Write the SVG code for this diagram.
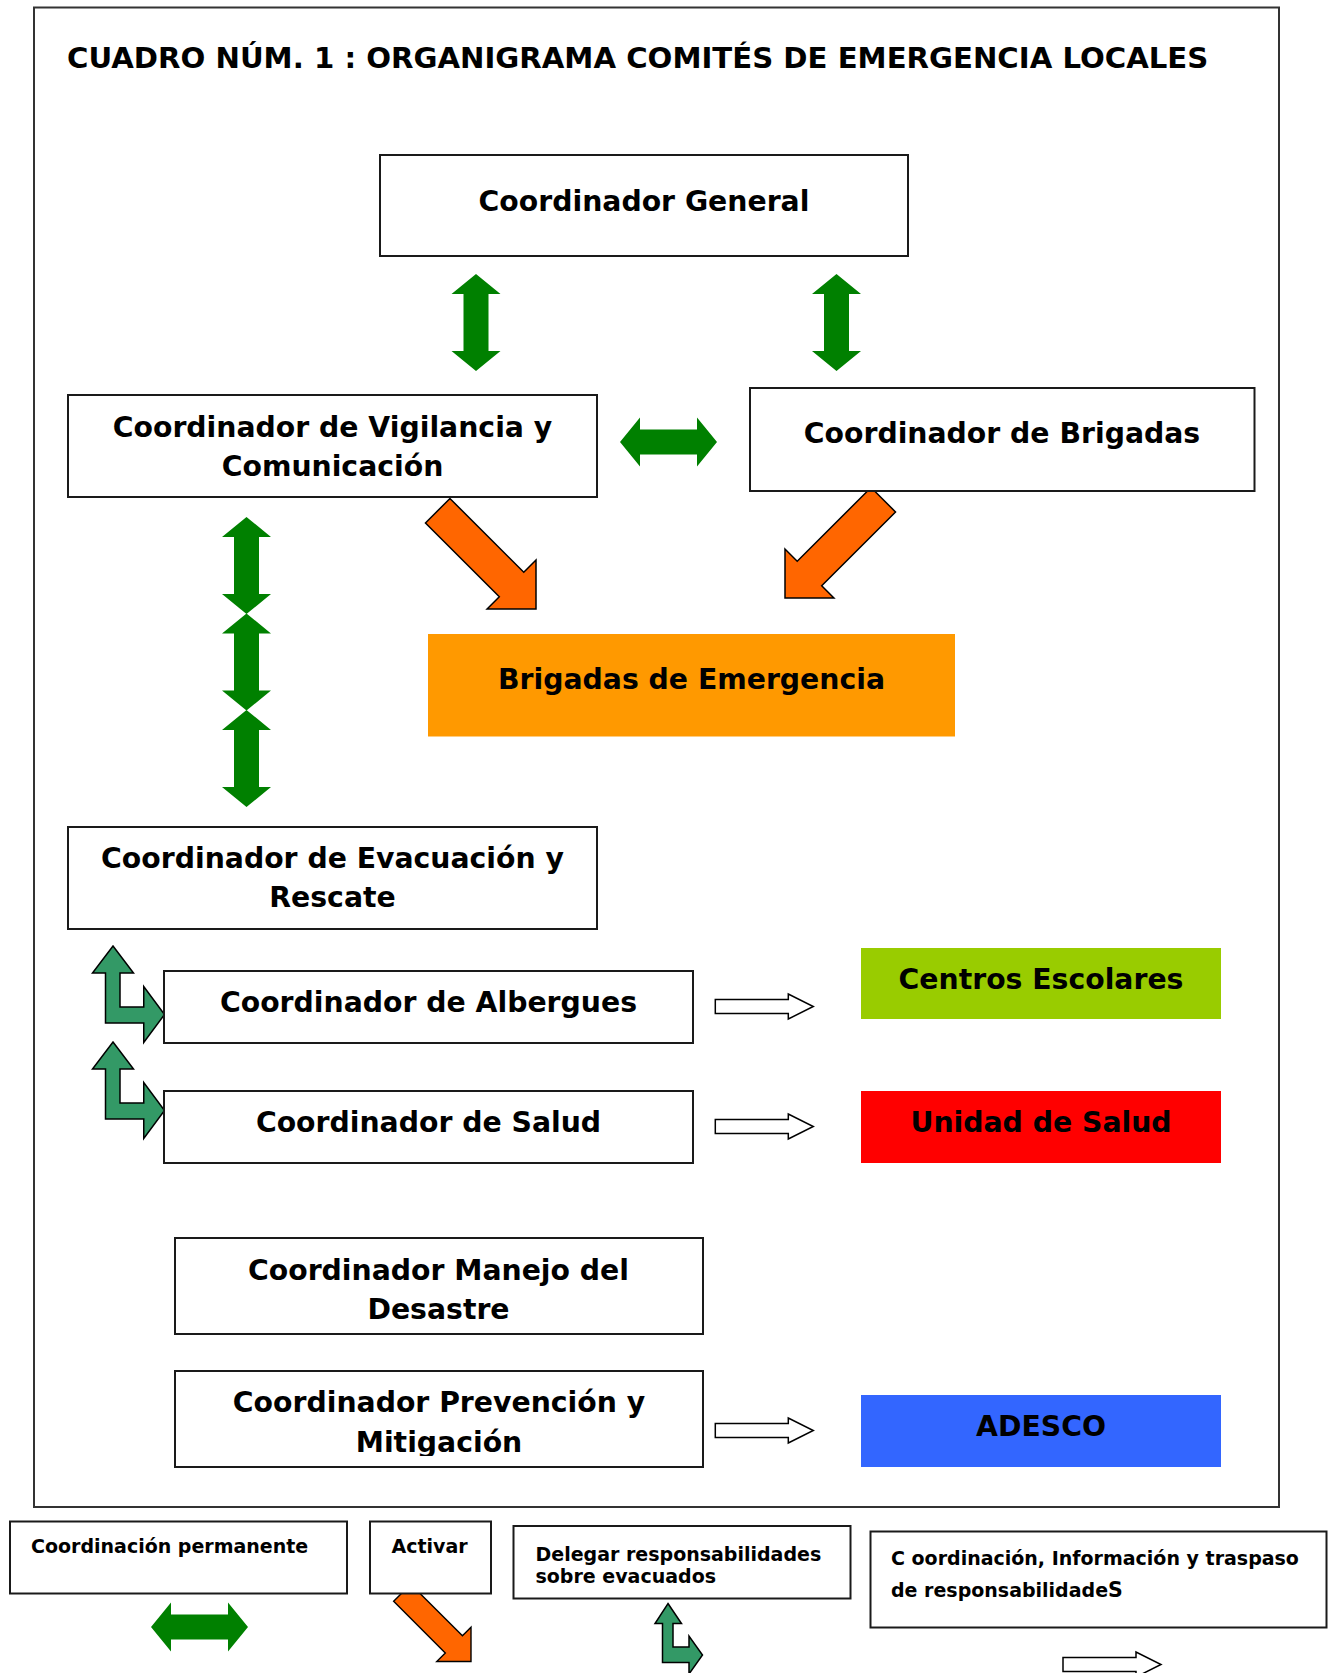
<svg xmlns="http://www.w3.org/2000/svg" width="1333" height="1673" viewBox="0 0 1333 1673">
<style>
.box{fill:#fff;stroke:#1a1a1a;stroke-width:2}
.frame{fill:none;stroke:#333;stroke-width:2}
.t{font-family:"DejaVu Sans","Liberation Sans",sans-serif;font-weight:bold;fill:#000}
.big{font-size:28.3px;text-anchor:middle}
.title{font-size:29.2px}
.leg{font-size:19px}
.g{fill:#008000}
.teal{fill:#339966;stroke:#000;stroke-width:1.5;stroke-linejoin:miter}
.org{fill:#FF6600;stroke:#000;stroke-width:1.5}
.wa{fill:#fff;stroke:#000;stroke-width:1.5}
</style>
<defs>
<polygon id="dbl" points="0,0 24.5,20 12.5,20 12.5,77 24.5,77 0,97 -24.5,77 -12.5,77 -12.5,20 -24.5,20"/>
<polygon id="oa" points="0,0 -34.6,-34.6 -34.6,-17.3 -139,-17.3 -139,17.3 -34.6,17.3 -34.6,34.6"/>
<polygon id="wa" points="0,-7 73,-7 73,-12.5 98,0 73,12.5 73,7 0,7"/>
<clipPath id="clipMit"><rect x="170" y="1360" width="540" height="96"/></clipPath>
</defs>
<rect width="1333" height="1673" fill="#fff"/>
<rect class="frame" x="34" y="7.5" width="1245" height="1499.5"/>
<text class="t title" x="67" y="67.5">CUADRO NÚM. 1 : ORGANIGRAMA COMITÉS DE EMERGENCIA LOCALES</text>

<g id="connectors">
  <use href="#dbl" class="g" x="476" y="274"/>
  <use href="#dbl" class="g" x="836.5" y="274"/>
  <use href="#dbl" class="g" transform="translate(717,442) rotate(90)"/>
  <use href="#dbl" class="g" x="246.5" y="517"/>
  <use href="#dbl" class="g" x="246.5" y="613.5"/>
  <use href="#dbl" class="g" x="246.5" y="710"/>
  <use href="#oa" class="org" transform="translate(536,609) rotate(45)"/>
  <use href="#oa" class="org" transform="translate(785,598) rotate(135)"/>
  <polygon class="teal" points="113,946 133.5,973 120,973 120,1007 143.75,1007 143.75,986.5 164.5,1014.5 143.75,1042.5 143.75,1023 105.5,1023 105.5,973 92.5,973"/>
  <polygon class="teal" transform="translate(0,96)" points="113,946 133.5,973 120,973 120,1007 143.75,1007 143.75,986.5 164.5,1014.5 143.75,1042.5 143.75,1023 105.5,1023 105.5,973 92.5,973"/>
  <use href="#wa" class="wa" x="715.3" y="1006.5"/>
  <use href="#wa" class="wa" x="715.3" y="1126.5"/>
  <use href="#wa" class="wa" x="715.3" y="1430.5"/>
  <use href="#dbl" class="g" transform="translate(248,1627) rotate(90)"/>
  <use href="#oa" class="org" style="stroke-width:2" transform="translate(471,1661.5) rotate(45) scale(0.7)"/>
  <polygon class="teal" points="668,1603.5 681.5,1623.5 673,1623.5 673,1647 689,1647 689,1636 702.5,1655 689,1674 689,1662.5 662.5,1662.5 662.5,1623.5 655,1623.5"/>
  <use href="#wa" class="wa" x="1063" y="1664.5"/>
</g>

<g id="coord-general">
  <rect class="box" x="380" y="155" width="528" height="101"/>
  <text class="t big" x="644" y="211">Coordinador General</text>
</g>
<g id="coord-vigilancia">
  <rect class="box" x="68" y="395" width="529" height="102"/>
  <text class="t big" x="332.5" y="437">Coordinador de Vigilancia y</text>
  <text class="t big" x="332.5" y="476">Comunicación</text>
</g>
<g id="coord-brigadas">
  <rect class="box" x="750" y="388" width="504.5" height="103"/>
  <text class="t big" x="1002" y="443">Coordinador de Brigadas</text>
</g>
<g id="brigadas-emergencia">
  <rect x="428" y="634" width="527" height="102.5" fill="#FF9900"/>
  <text class="t big" x="691.5" y="689">Brigadas de Emergencia</text>
</g>
<g id="coord-evacuacion">
  <rect class="box" x="68" y="827" width="529" height="102"/>
  <text class="t big" x="332.5" y="868">Coordinador de Evacuación y</text>
  <text class="t big" x="332.5" y="907">Rescate</text>
</g>
<g id="coord-albergues">
  <rect class="box" x="164" y="971" width="529" height="72"/>
  <text class="t big" x="428.5" y="1012">Coordinador de Albergues</text>
</g>
<g id="coord-salud">
  <rect class="box" x="164" y="1091" width="529" height="72"/>
  <text class="t big" x="428.5" y="1132">Coordinador de Salud</text>
</g>
<g id="centros-escolares">
  <rect x="861" y="948" width="360" height="71" fill="#99CC00"/>
  <text class="t big" x="1041" y="988.5">Centros Escolares</text>
</g>
<g id="unidad-salud">
  <rect x="861" y="1091" width="360" height="72" fill="#FF0000"/>
  <text class="t big" x="1041" y="1132">Unidad de Salud</text>
</g>
<g id="coord-manejo">
  <rect class="box" x="175" y="1238" width="528" height="96"/>
  <text class="t big" x="438.5" y="1280">Coordinador Manejo del</text>
  <text class="t big" x="438.5" y="1319">Desastre</text>
</g>
<g id="coord-prevencion">
  <rect class="box" x="175" y="1371" width="528" height="96"/>
  <text class="t big" x="439" y="1412">Coordinador Prevención y</text>
  <text class="t big" x="439" y="1451.7" clip-path="url(#clipMit)">Mitigación</text>
</g>
<g id="adesco">
  <rect x="861" y="1395" width="360" height="72" fill="#3366FF"/>
  <text class="t big" x="1041" y="1436">ADESCO</text>
</g>

<g id="legend-coordinacion">
  <rect class="box" x="10" y="1521.5" width="337" height="72"/>
  <text class="t leg" x="31" y="1553">Coordinación permanente</text>
</g>
<g id="legend-activar">
  <rect class="box" x="370" y="1521.5" width="121" height="72"/>
  <text class="t leg" x="391.5" y="1553">Activar</text>
</g>
<g id="legend-delegar">
  <rect class="box" x="513.5" y="1526" width="337" height="72.5"/>
  <text class="t leg" x="535.5" y="1561">Delegar responsabilidades</text>
  <text class="t leg" x="535.5" y="1583">sobre evacuados</text>
</g>
<g id="legend-traspaso">
  <rect class="box" x="870.5" y="1531.5" width="456" height="96"/>
  <text class="t leg" x="891" y="1564.5">C oordinación, Información y traspaso</text>
  <text class="t leg" x="891" y="1597">de responsabilidade<tspan style="font-size:20.5px">S</tspan></text>
</g>
</svg>
